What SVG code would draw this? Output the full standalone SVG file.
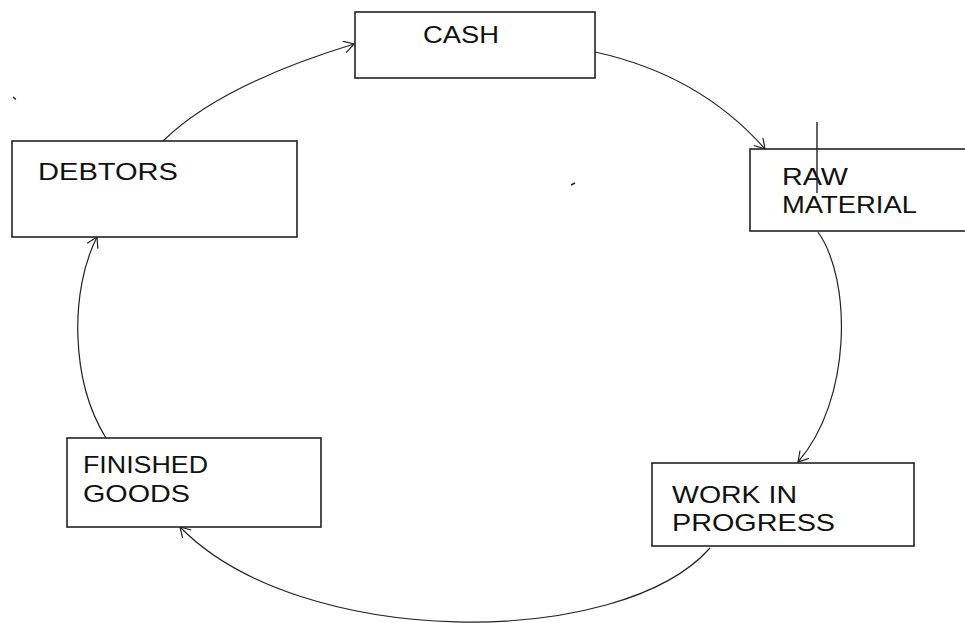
<svg xmlns="http://www.w3.org/2000/svg" width="965" height="623" viewBox="0 0 965 623">
  <style>
    .box { fill: #ffffff; stroke: #222222; stroke-width: 1.6; }
    .lbl { font-family: "Liberation Sans", Arial, sans-serif; font-size: 24px; fill: #111111; }
    .conn { fill: none; stroke: #222222; stroke-width: 1.2; }
    .mark { fill: none; stroke: #222222; stroke-width: 1.4; }
  </style>
  <defs>
    <marker id="arr" markerUnits="userSpaceOnUse" markerWidth="14" markerHeight="14" refX="12" refY="6" orient="auto">
      <path d="M2,0 L12,6 L2,12" fill="none" stroke="#222222" stroke-width="1.2"/>
    </marker>
  </defs>
  <rect width="965" height="623" fill="#ffffff"/>

  <g id="connectors">
    <path class="conn" d="M163,141 Q220,85 354,44" marker-end="url(#arr)"/>
    <path class="conn" d="M595,52 Q700,75 765,149" marker-end="url(#arr)"/>
    <path class="conn" d="M818,232 C852,280 852,400 798,462" marker-end="url(#arr)"/>
    <path class="conn" d="M710,548 C620,650 300,650 180,527" marker-end="url(#arr)"/>
    <path class="conn" d="M106,438 C70,380 70,290 97,237" marker-end="url(#arr)"/>
  </g>

  <g id="cash">
    <rect class="box" x="355" y="12" width="240" height="66"/>
    <text class="lbl" x="423" y="43" textLength="76" lengthAdjust="spacingAndGlyphs">CASH</text>
  </g>

  <g id="raw-material">
    <rect class="box" x="750" y="149" width="230" height="82"/>
    <text class="lbl" x="782" y="185" textLength="66" lengthAdjust="spacingAndGlyphs">RAW</text>
    <text class="lbl" x="782" y="213" textLength="135" lengthAdjust="spacingAndGlyphs">MATERIAL</text>
    <line class="mark" x1="817" y1="122" x2="817" y2="193"/>
  </g>

  <g id="work-in-progress">
    <rect class="box" x="652" y="463" width="262" height="83"/>
    <text class="lbl" x="672" y="503" textLength="125" lengthAdjust="spacingAndGlyphs">WORK IN</text>
    <text class="lbl" x="672" y="531" textLength="163" lengthAdjust="spacingAndGlyphs">PROGRESS</text>
  </g>

  <g id="finished-goods">
    <rect class="box" x="67" y="438" width="254" height="89"/>
    <text class="lbl" x="83" y="473" textLength="125" lengthAdjust="spacingAndGlyphs">FINISHED</text>
    <text class="lbl" x="83" y="502" textLength="107" lengthAdjust="spacingAndGlyphs">GOODS</text>
  </g>

  <g id="debtors">
    <rect class="box" x="12" y="141" width="285" height="96"/>
    <text class="lbl" x="38" y="180" textLength="140" lengthAdjust="spacingAndGlyphs">DEBTORS</text>
  </g>

  <g id="stray-marks">
    <line class="mark" x1="13" y1="97" x2="16" y2="99.5"/>
    <line class="mark" x1="571" y1="185" x2="575" y2="183"/>
  </g>
</svg>
